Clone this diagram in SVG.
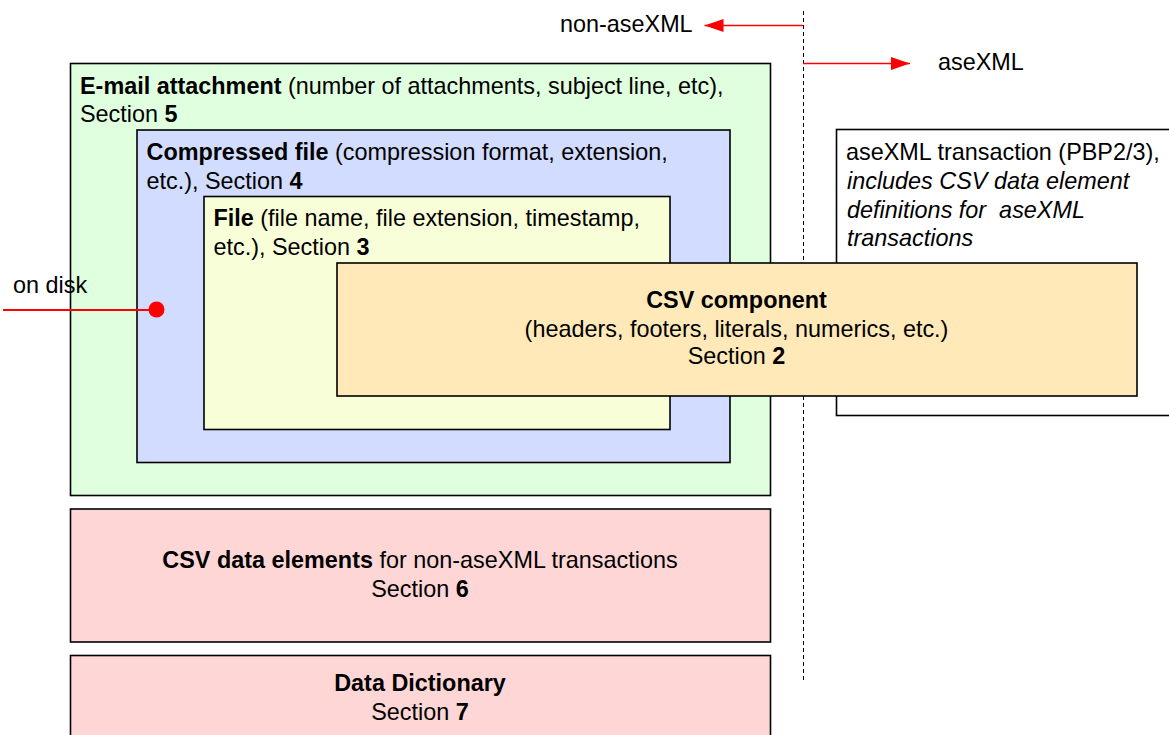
<svg xmlns="http://www.w3.org/2000/svg" width="1169" height="735" viewBox="0 0 1169 735">
<defs><marker id="a" markerUnits="userSpaceOnUse" markerWidth="20" markerHeight="13" refX="19" refY="6.500" orient="auto"><path d="M0 0L19 6.500L0 13z" fill="#f00"/></marker></defs>
<style>text{font-family:"Liberation Sans",Arial,sans-serif;font-size:23.4px;fill:#000;white-space:pre}.b{font-weight:bold}.i{font-style:italic}.m{text-anchor:middle}.n rect{stroke:#000;stroke-width:1.6}.c{stroke:#f00;stroke-width:1.6;fill:none}</style>
<rect width="1169" height="735" fill="#fff"/>
<g id="label-non"><text x="560" y="32.400">non-aseXML</text></g>
<g id="label-ase"><text x="938" y="70.400">aseXML</text></g>
<g id="node-txn" class="n"><rect x="836.500" y="129.500" width="340" height="286" fill="#fff"/><text x="846" y="160.400">aseXML transaction (PBP2/3),</text><text class="i" x="847" y="189.400">includes CSV data element</text><text class="i" x="847" y="217.600">definitions for  aseXML</text><text class="i" x="847" y="245.600">transactions</text></g>
<g id="node-email" class="n"><rect x="70.500" y="63.500" width="700" height="432" fill="#dfffdf"/><text x="80" y="94.400"><tspan class="b">E-mail attachment</tspan> (number of attachments, subject line, etc),</text><text x="80" y="122.400">Section <tspan class="b">5</tspan></text></g>
<g id="node-compressed" class="n"><rect x="137" y="130" width="593" height="332.500" fill="#d2dcff"/><text x="146.500" y="160.400"><tspan class="b">Compressed file</tspan> (compression format, extension,</text><text x="146.500" y="189.400">etc.), Section <tspan class="b">4</tspan></text></g>
<g id="node-file" class="n"><rect x="204" y="196.500" width="466" height="233" fill="#f8ffd8"/><text x="213.500" y="226.400"><tspan class="b">File</tspan> (file name, file extension, timestamp,</text><text x="213.500" y="255.400">etc.), Section <tspan class="b">3</tspan></text></g>
<g id="node-csv" class="n"><rect x="337" y="263" width="800" height="133" fill="#ffe9b8"/><text class="m" x="736.500" y="308.400"><tspan class="b">CSV component</tspan></text><text class="m" x="736.500" y="337">(headers, footers, literals, numerics, etc.)</text><text class="m" x="736.500" y="364.400">Section <tspan class="b">2</tspan></text></g>
<g id="node-elements" class="n"><rect x="70.500" y="509" width="700" height="133" fill="#ffd6d6"/><text class="m" x="420" y="568.200"><tspan class="b">CSV data elements</tspan> for non-aseXML transactions</text><text class="m" x="420" y="597.400">Section <tspan class="b">6</tspan></text></g>
<g id="node-dict" class="n"><rect x="70.500" y="655.500" width="700" height="100" fill="#ffd6d6"/><text class="m b" x="420" y="691.200">Data Dictionary</text><text class="m" x="420" y="720.200">Section <tspan class="b">7</tspan></text></g>
<g id="label-disk"><text x="13" y="293.400">on disk</text></g>
<g id="connectors"><path d="M803.500 11V263M803.500 396V682" stroke="#000" stroke-width="1" stroke-dasharray="4 3" fill="none"/><path class="c" d="M803 25.500H704.500" marker-end="url(#a)"/><path class="c" d="M803 63.500H910" marker-end="url(#a)"/><path class="c" style="stroke-width:2" d="M3 310H156"/><circle cx="156.500" cy="309.500" r="8" fill="#f00"/></g>
</svg>
